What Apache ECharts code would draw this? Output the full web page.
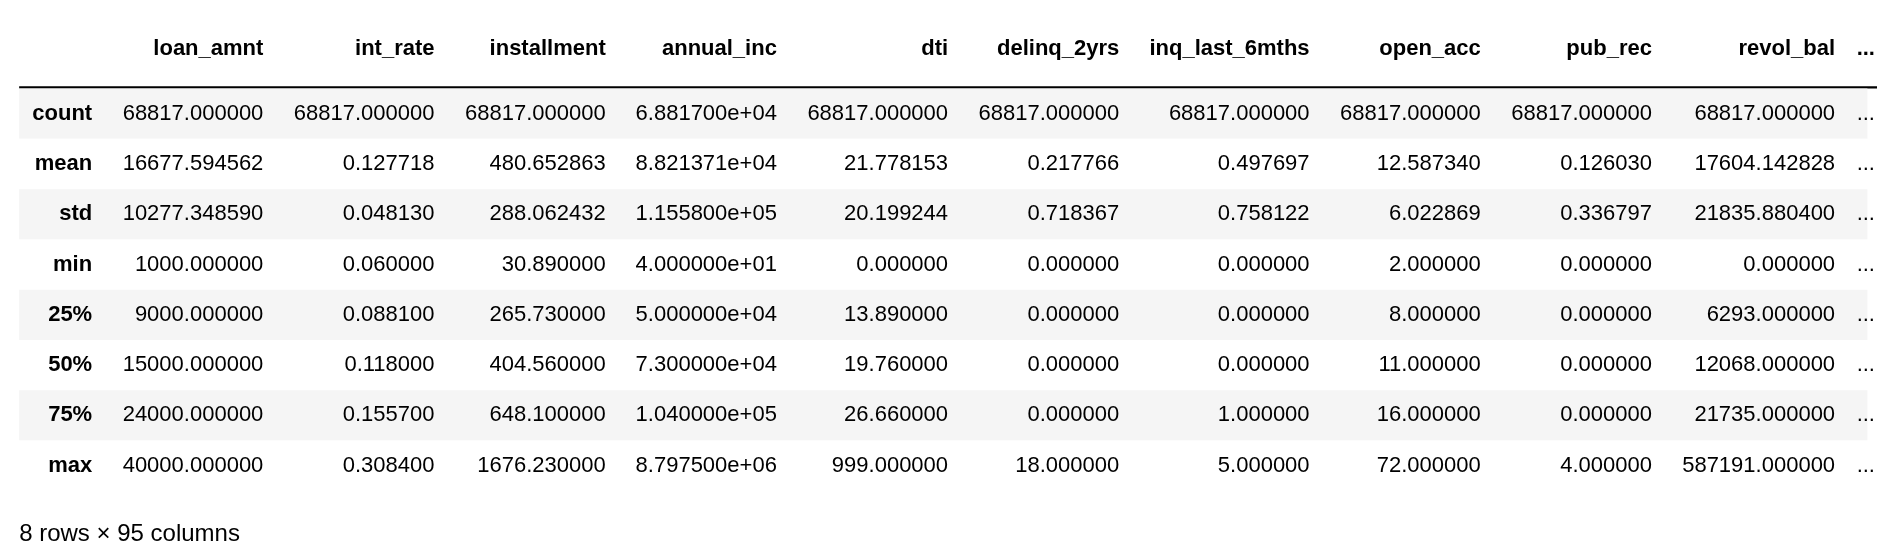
<!DOCTYPE html>
<html>
<head>
<meta charset="utf-8">
<script src="https://cdn.jsdelivr.net/npm/echarts@6/dist/echarts.min.js"></script>
<style>html,body{margin:0;padding:0;background:#fff}#main{width:1877px;height:554px}</style>
</head>
<body>
<div id="main"></div>
<script>
var rowLabels = ['count', 'mean', 'std', 'min', '25%', '50%', '75%', 'max'];
var columns = ['loan_amnt', 'int_rate', 'installment', 'annual_inc', 'dti', 'delinq_2yrs', 'inq_last_6mths', 'open_acc', 'pub_rec', 'revol_bal'];
var loan_amnt = [68817, 16677.594562, 10277.348590, 1000, 9000, 15000, 24000, 40000];
var int_rate = [68817, 0.127718, 0.048130, 0.060000, 0.088100, 0.118000, 0.155700, 0.308400];
var installment = [68817, 480.652863, 288.062432, 30.890000, 265.730000, 404.560000, 648.100000, 1676.230000];
var annual_inc = [68817, 88213.71, 115580, 40, 50000, 73000, 104000, 8797500];
var dti = [68817, 21.778153, 20.199244, 0, 13.890000, 19.760000, 26.660000, 999];
var delinq_2yrs = [68817, 0.217766, 0.718367, 0, 0, 0, 0, 18];
var inq_last_6mths = [68817, 0.497697, 0.758122, 0, 0, 0, 1, 5];
var open_acc = [68817, 12.587340, 6.022869, 2, 8, 11, 16, 72];
var pub_rec = [68817, 0.126030, 0.336797, 0, 0, 0, 0, 4];
var revol_bal = [68817, 17604.142828, 21835.880400, 0, 6293, 12068, 21735, 587191];
var sciColumns = ['annual_inc'];
var shape = '8 rows × 95 columns';

var values = [loan_amnt, int_rate, installment, annual_inc, dti, delinq_2yrs, inq_last_6mths, open_acc, pub_rec, revol_bal];

// layout (pixels, measured at 1568 wide then scaled up)
var k = 1877 / 1568;
var colRight = [77, 220, 363, 506, 649, 792, 935, 1094, 1237, 1380, 1533].map(function (v) { return v * k; });
var dotsX = 1551 * k;
var headerY = 41 * k, firstRowTop = 74 * k, rowH = 42 * k, tableLeft = 16 * k, tableRight = 1560 * k;
var fontSize = Math.round(18 * k);

function fmt(v, col) {
  if (sciColumns.indexOf(col) >= 0) {
    var s = v.toExponential(6);
    return s.replace(/e([+-])(\d)$/, 'e$10$2');
  }
  return v.toFixed(6);
}

var cells = [];
columns.forEach(function (c, ci) {
  cells.push([ci + 1, -1, c, 1]);
});
cells.push([11, -1, '...', 1]);
rowLabels.forEach(function (r, ri) {
  cells.push([0, ri, r, 1]);
  columns.forEach(function (c, ci) {
    cells.push([ci + 1, ri, fmt(values[ci][ri], c), 0]);
  });
  cells.push([11, ri, '...', 0]);
});

var font = 'Liberation Sans, Arial, sans-serif';
var chart = echarts.init(document.getElementById('main'));
chart.setOption({
  animation: false,
  grid: { left: 0, top: 0, width: 1877, height: 554 },
  xAxis: { type: 'value', min: 0, max: 1877, show: false },
  yAxis: { type: 'value', min: 0, max: 554, inverse: true, show: false },
  series: [{
    type: 'custom',
    data: rowLabels.map(function (r, i) { return [i]; }),
    renderItem: function (params, api) {
      var i = api.value(0);
      var p0 = api.coord([tableLeft, firstRowTop + i * rowH]);
      var p1 = api.coord([tableRight, firstRowTop + (i + 1) * rowH]);
      return {
        type: 'rect', z2: 0,
        shape: { x: p0[0], y: p0[1], width: p1[0] - p0[0], height: p1[1] - p0[1] },
        style: { fill: i % 2 === 0 ? '#f5f5f5' : '#ffffff' }
      };
    }
  }, {
    type: 'custom',
    data: cells,
    renderItem: function (params, api) {
      var col = api.value(0), row = api.value(1);
      var d = cells[params.dataIndex];
      var x = col === 11 ? dotsX : colRight[col];
      var y = row < 0 ? headerY : firstRowTop + row * rowH + rowH / 2;
      var p = api.coord([x, y]);
      return {
        type: 'text', z2: 10,
        x: p[0], y: p[1],
        style: {
          text: d[2], fill: '#000',
          align: col === 11 ? 'left' : 'right', verticalAlign: 'middle',
          font: (d[3] ? 'bold ' : '') + fontSize + 'px ' + font
        }
      };
    }
  }],
  graphic: [
    { type: 'line', shape: { x1: tableLeft, y1: 73 * k, x2: 1877, y2: 73 * k }, style: { stroke: '#000', lineWidth: 2.4 } },
    { type: 'text', left: 16 * k, top: 436 * k, style: { text: shape, font: Math.round(20 * k) + 'px ' + font, fill: '#000' } }
  ]
});
</script>
</body>
</html>
